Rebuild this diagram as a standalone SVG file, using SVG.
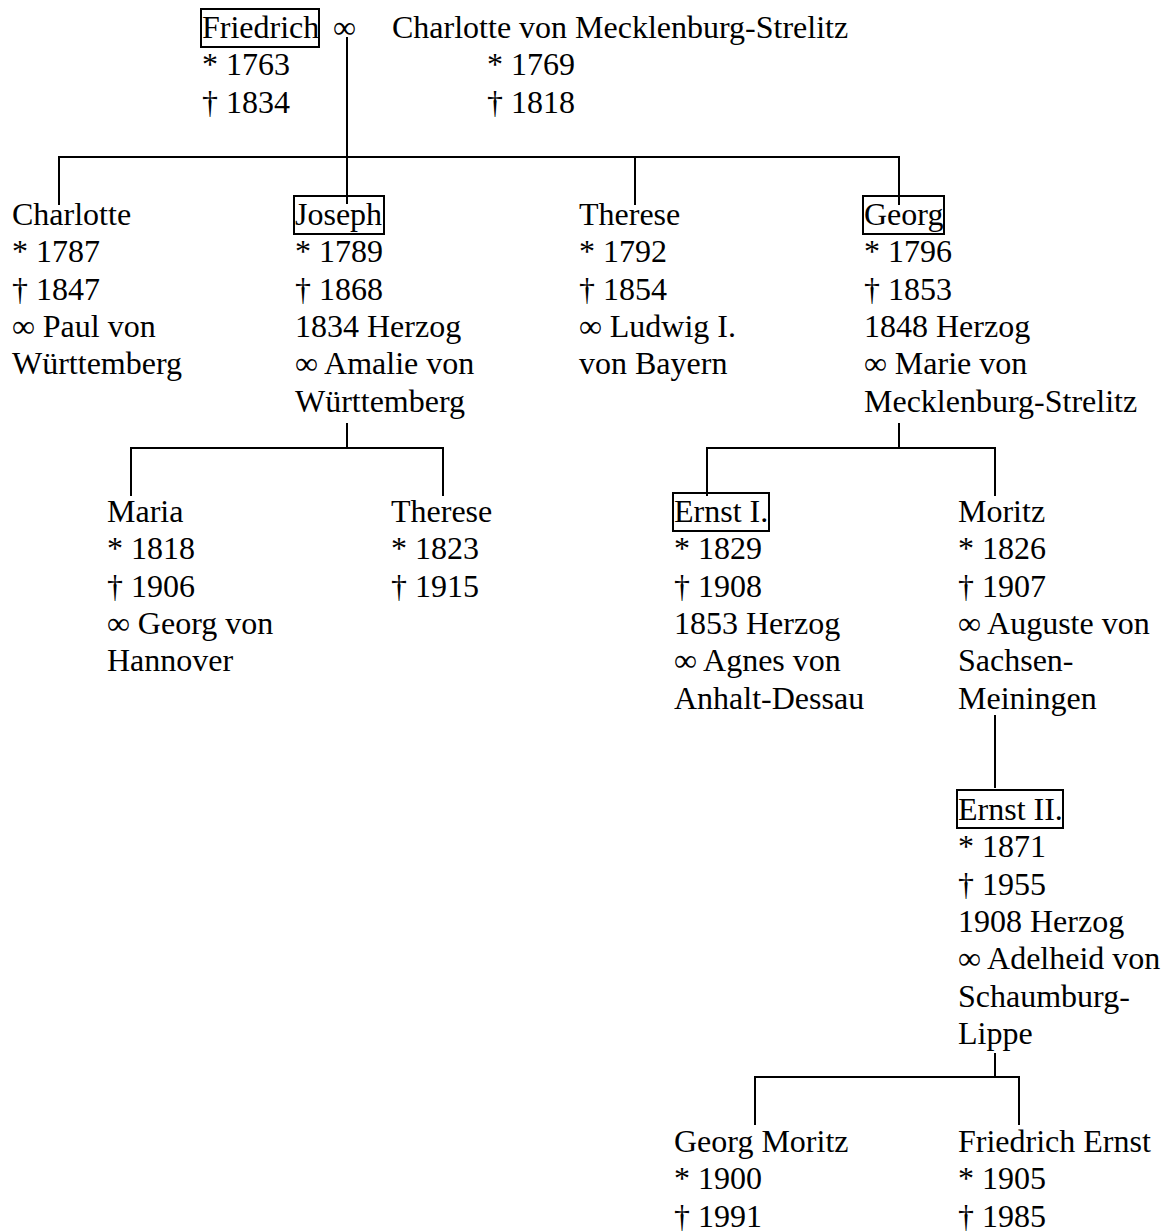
<svg xmlns="http://www.w3.org/2000/svg" width="1170" height="1231" viewBox="0 0 1170 1231">
<style>
text{font-family:"Liberation Serif","Times New Roman",serif;font-size:32px;fill:#000}
.box{fill:none;stroke:#000;stroke-width:2}
.c{fill:none;stroke:#000;stroke-width:2}
</style>
<rect width="1170" height="1231" fill="#fff"/>
<g id="connectors">
<path class="c" d="M347,37 V204"/>
<path class="c" d="M59,205 V157 H899 V205 M635,157 V205"/>
<path class="c" d="M347,423 V448 M131,496 V448 H443 V496"/>
<path class="c" d="M899,423 V448 M707,496 V448 H995 V496"/>
<path class="c" d="M995,715 V788"/>
<path class="c" d="M995,1053 V1077 M755,1125 V1077 H1019 V1125"/>
</g>
<g id="friedrich">
<rect class="box" x="201" y="9" width="118" height="38"/>
<text x="202" y="37.5">Friedrich<tspan x="202" dy="37.5">* 1763</tspan><tspan x="202" dy="37.5">† 1834</tspan></text>
<text x="333" y="37.5">∞</text>
</g>
<g id="charlotte-mecklenburg">
<text x="392" y="37.5">Charlotte von Mecklenburg-Strelitz</text>
<text x="487" y="75">* 1769<tspan x="487" dy="37.5">† 1818</tspan></text>
</g>
<g id="charlotte">
<text x="12" y="225">Charlotte<tspan x="12" dy="37.3">* 1787</tspan><tspan x="12" dy="37.3">† 1847</tspan><tspan x="12" dy="37.3">∞ Paul von</tspan><tspan x="12" dy="37.3">Württemberg</tspan></text>
</g>
<g id="joseph">
<rect class="box" x="294" y="196" width="90" height="38"/>
<text x="295" y="225">Joseph<tspan x="295" dy="37.3">* 1789</tspan><tspan x="295" dy="37.3">† 1868</tspan><tspan x="295" dy="37.3">1834 Herzog</tspan><tspan x="295" dy="37.3">∞ Amalie von</tspan><tspan x="295" dy="37.3">Württemberg</tspan></text>
</g>
<g id="therese-1792">
<text x="579" y="225">Therese<tspan x="579" dy="37.3">* 1792</tspan><tspan x="579" dy="37.3">† 1854</tspan><tspan x="579" dy="37.3">∞ Ludwig I.</tspan><tspan x="579" dy="37.3">von Bayern</tspan></text>
</g>
<g id="georg">
<rect class="box" x="863" y="196" width="81" height="38"/>
<text x="864" y="225">Georg<tspan x="864" dy="37.3">* 1796</tspan><tspan x="864" dy="37.3">† 1853</tspan><tspan x="864" dy="37.3">1848 Herzog</tspan><tspan x="864" dy="37.3">∞ Marie von</tspan><tspan x="864" dy="37.3">Mecklenburg-Strelitz</tspan></text>
</g>
<g id="maria">
<text x="107" y="522">Maria<tspan x="107" dy="37.3">* 1818</tspan><tspan x="107" dy="37.3">† 1906</tspan><tspan x="107" dy="37.3">∞ Georg von</tspan><tspan x="107" dy="37.3">Hannover</tspan></text>
</g>
<g id="therese-1823">
<text x="391" y="522">Therese<tspan x="391" dy="37.3">* 1823</tspan><tspan x="391" dy="37.3">† 1915</tspan></text>
</g>
<g id="ernst-i">
<rect class="box" x="673" y="493" width="96" height="38"/>
<text x="674" y="522">Ernst I.<tspan x="674" dy="37.3">* 1829</tspan><tspan x="674" dy="37.3">† 1908</tspan><tspan x="674" dy="37.3">1853 Herzog</tspan><tspan x="674" dy="37.3">∞ Agnes von</tspan><tspan x="674" dy="37.3">Anhalt-Dessau</tspan></text>
</g>
<g id="moritz">
<text x="958" y="522">Moritz<tspan x="958" dy="37.3">* 1826</tspan><tspan x="958" dy="37.3">† 1907</tspan><tspan x="958" dy="37.3">∞ Auguste von</tspan><tspan x="958" dy="37.3">Sachsen-</tspan><tspan x="958" dy="37.3">Meiningen</tspan></text>
</g>
<g id="ernst-ii">
<rect class="box" x="957" y="790" width="106" height="38"/>
<text x="958" y="820">Ernst II.<tspan x="958" dy="37.3">* 1871</tspan><tspan x="958" dy="37.3">† 1955</tspan><tspan x="958" dy="37.3">1908 Herzog</tspan><tspan x="958" dy="37.3">∞ Adelheid von</tspan><tspan x="958" dy="37.3">Schaumburg-</tspan><tspan x="958" dy="37.3">Lippe</tspan></text>
</g>
<g id="georg-moritz">
<text x="674" y="1152">Georg Moritz<tspan x="674" dy="37.3">* 1900</tspan><tspan x="674" dy="37.3">† 1991</tspan></text>
</g>
<g id="friedrich-ernst">
<text x="958" y="1152">Friedrich Ernst<tspan x="958" dy="37.3">* 1905</tspan><tspan x="958" dy="37.3">† 1985</tspan></text>
</g>
</svg>
